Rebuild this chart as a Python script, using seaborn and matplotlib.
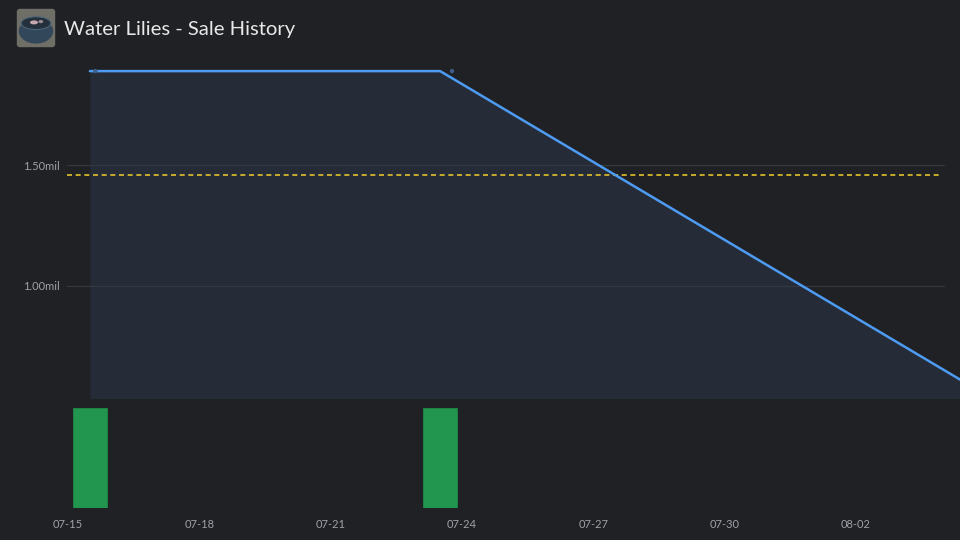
import matplotlib
matplotlib.use("Agg")
import matplotlib.pyplot as plt
import matplotlib.dates as mdates
from matplotlib.patches import FancyBboxPatch, Ellipse
import seaborn as sns
import pandas as pd

# ---- data ----
price_dates = ["2024-07-15 12:00", "2024-07-23 12:00", "2024-08-04 12:00"]
price_values = [1.888, 1.888, 0.60]          # millions
sale_dates = ["2024-07-15 15:00", "2024-07-23 18:30"]
sale_values = [1.888, 1.888]
volume_dates = ["2024-07-15 12:00", "2024-07-23 12:00"]
volume_counts = [1, 1]
average_price = 1.46
tick_dates = ["2024-07-15", "2024-07-18", "2024-07-21", "2024-07-24",
              "2024-07-27", "2024-07-30", "2024-08-02"]
ytick_values = [1.00, 1.50]
title = "Water Lilies - Sale History"

BG = "#202124"
FILL = "#262c37"
LINE = "#4d9bf2"
GRID = "#353840"
TXT = "#9ea2a8"

sns.set_theme(style="dark")
plt.rcParams["font.family"] = ["Lato", "DejaVu Sans"]

W, H = 960, 540
fig = plt.figure(figsize=(9.6, 5.4), dpi=100, facecolor=BG)

def px_axes(x0, y0, x1, y1):
    return fig.add_axes([x0 / W, 1 - y1 / H, (x1 - x0) / W, (y1 - y0) / H])

px_per_day = 43.78
d0 = mdates.date2num(pd.Timestamp("2024-07-15"))
xl = d0 - 1 / px_per_day
xr = xl + (960 - 67) / px_per_day

# top price axes
ax = px_axes(67, 60, 960, 398)
ax.set_facecolor(BG)
for s in ax.spines.values():
    s.set_visible(False)
pdf = pd.DataFrame({"date": pd.to_datetime(price_dates), "price": price_values})
ax.fill_between(mdates.date2num(pdf["date"]), pdf["price"], 0, color=FILL, lw=0, zorder=1)
y_bot = 1.00 - (398 - 286) / 242
y_top = 1.50 + (165 - 60) / 242
ax.set_ylim(y_bot, y_top)
ax.set_xlim(xl, xr)
gx1 = (944 - 67) / (960 - 67)
for yv in ytick_values:
    ax.axhline(yv, xmin=0, xmax=gx1, color=GRID, lw=0.9, zorder=2)
ax.axhline(average_price, xmin=0, xmax=(941 - 67) / (960 - 67), color="#e2c22c",
           lw=1.2, dashes=(3.0, 2.2), zorder=3)
sns.lineplot(x=mdates.date2num(pdf["date"]), y=pdf["price"], ax=ax, color=LINE,
             lw=1.8, zorder=4)
sdf = pd.DataFrame({"date": mdates.date2num(pd.to_datetime(sale_dates)), "price": sale_values})
sns.scatterplot(data=sdf, x="date", y="price", ax=ax, color="#3d5f8a", s=10,
                edgecolor="none", zorder=5)
ax.set_yticks(ytick_values)
ax.set_yticklabels([f"{v:.2f}mil" for v in ytick_values])
ax.set_xticks([])
ax.set_xlabel("")
ax.set_ylabel("")
ax.tick_params(axis="y", length=0, pad=5, labelsize=8, labelcolor=TXT)
ax.grid(False)

# bottom volume axes
bx = px_axes(67, 408, 960, 508)
bx.set_facecolor(BG)
for s in bx.spines.values():
    s.set_visible(False)
bx.bar(mdates.date2num(pd.to_datetime(volume_dates)), volume_counts, width=0.79,
       color="#22964f", edgecolor="#1f8a48", lw=0.6)
bx.set_xlim(xl, xr)
bx.set_ylim(0, 1)
bx.set_yticks([])
bx.set_xticks(mdates.date2num(pd.to_datetime(tick_dates)))
bx.set_xticklabels([pd.Timestamp(t).strftime("%m-%d") for t in tick_dates])
bx.tick_params(axis="x", length=0, pad=8, labelsize=8, labelcolor=TXT)
bx.grid(False)

# icon
ix = px_axes(16, 8, 56, 48)
ix.set_xlim(0, 1); ix.set_ylim(0, 1); ix.axis("off")
ix.add_patch(FancyBboxPatch((0.02, 0.02), 0.96, 0.96, boxstyle="round,pad=0,rounding_size=0.08",
                            fc="#6f6f68", ec="none"))
ix.add_patch(Ellipse((0.5, 0.42), 0.86, 0.62, fc="#33475a", ec="none"))
ix.add_patch(Ellipse((0.5, 0.62), 0.74, 0.32, fc="#24303b", ec="#4c6478", lw=0.8))
ix.add_patch(Ellipse((0.45, 0.64), 0.2, 0.1, fc="#c8a8b0", ec="none"))
ix.add_patch(Ellipse((0.62, 0.66), 0.12, 0.08, fc="#9a8a92", ec="none"))

fig.text(64 / W, 1 - 29 / H, title, fontsize=14.6, color="#e8e8e8", va="center", ha="left")

fig.savefig("out.png", dpi=100, facecolor=BG)
